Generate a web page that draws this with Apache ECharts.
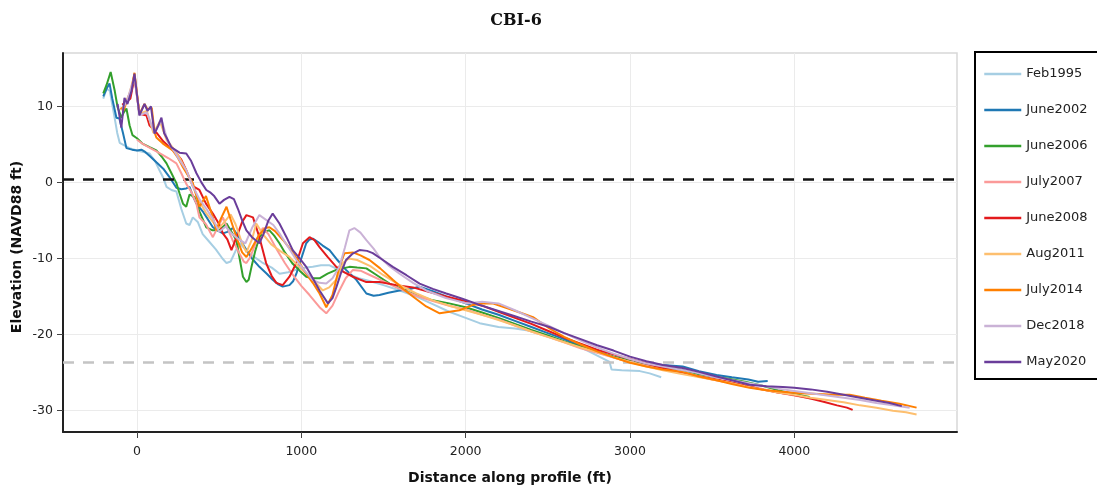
<!DOCTYPE html>
<html><head><meta charset="utf-8">
<script src="https://cdn.jsdelivr.net/npm/echarts@6/dist/echarts.min.js"></script>
<style>html,body{margin:0;padding:0;background:#fff}#c{width:1097px;height:486px}</style>
</head><body><div id="c"></div>
<script>
const chartTitle = 'CBI-6';
const xTitle = 'Distance along profile (ft)';
const yTitle = 'Elevation (NAVD88 ft)';
const seriesNames = ['Feb1995','June2002','June2006','July2007','June2008','Aug2011','July2014','Dec2018','May2020'];
const colors = ['#a6cee3','#1f78b4','#33a02c','#fb9a99','#e31a1c','#fdbf6f','#ff7f00','#cab2d6','#6a3d9a'];
const xTicks = [0, 1000, 2000, 3000, 4000];
const yTicks = [-30, -20, -10, 0, 10];
const xRange = [-450, 4990];
const yRange = [-32.8, 17];
const refZero = 0.35;
const refLow = -23.7;

const feb1995 = [[-205,11],[-185,12.3],[-165,12],[-140,9],[-120,6.5],[-105,5.2],[-80,4.9],[-45,4.5],[0,4.2],[40,4.0],[76,3.8],[110,2.8],[137,1.6],[160,0.6],[180,-0.6],[210,-1.0],[240,-1.2],[270,-3.5],[300,-5.4],[320,-5.6],[340,-4.6],[370,-5.2],[400,-6.8],[440,-7.8],[480,-8.8],[520,-10],[545,-10.6],[570,-10.4],[600,-9],[625,-8],[660,-8.8],[700,-9.6],[760,-10.5],[820,-11.2],[868,-12],[920,-11.8],[980,-11.4],[1030,-11.2],[1070,-11.1],[1120,-10.9],[1172,-10.9],[1220,-11.4],[1280,-12],[1350,-12.6],[1420,-13],[1500,-13.5],[1600,-14.2],[1700,-15],[1800,-16],[1900,-17],[2000,-17.8],[2085,-18.5],[2200,-19],[2300,-19.2],[2390,-19.5],[2500,-20.2],[2632,-21],[2750,-22.2],[2876,-23.6],[2888,-24.6],[2950,-24.7],[3060,-24.8],[3120,-25.1],[3190,-25.6]];
const june2002 = [[-205,11.3],[-185,12.3],[-167,13],[-150,11],[-125,8.5],[-107,8.4],[-85,6.5],[-64,4.5],[-30,4.3],[0,4.2],[27,4.3],[50,4.0],[76,3.5],[120,2.6],[160,1.8],[198,0.7],[240,-0.7],[270,-0.9],[300,-0.8],[320,-0.6],[340,-1.8],[362,-2.8],[400,-3.8],[430,-4.8],[462,-5.9],[490,-6.3],[523,-6.7],[550,-6.5],[583,-6],[620,-7.2],[666,-8.9],[700,-10],[745,-11.1],[790,-12],[826,-12.8],[860,-13.4],[887,-13.7],[928,-13.5],[950,-13],[970,-12],[1000,-10],[1030,-8],[1050,-7.5],[1070,-7.4],[1100,-7.8],[1130,-8.3],[1172,-8.9],[1220,-10.2],[1272,-11.5],[1335,-12.8],[1396,-14.6],[1440,-14.9],[1476,-14.8],[1530,-14.5],[1598,-14.2],[1660,-14],[1720,-13.7],[1800,-14.3],[1882,-15],[2000,-15.9],[2100,-16.7],[2200,-17.4],[2300,-18.2],[2400,-19.0],[2500,-19.8],[2600,-20.6],[2700,-21.5],[2800,-22.2],[2900,-22.9],[3000,-23.4],[3100,-23.8],[3200,-24],[3321,-24.2],[3420,-24.8],[3527,-25.3],[3620,-25.6],[3720,-25.9],[3780,-26.2],[3838,-26.1]];
const june2006 = [[-205,11.7],[-185,12.8],[-160,14.5],[-148,14.7],[-135,12],[-118,9.9],[-95,8.5],[-80,9.2],[-64,9.7],[-45,7.5],[-27,6.2],[0,5.8],[33,5.1],[80,4.6],[118,4.2],[150,3.4],[180,2.5],[210,1.2],[240,-0.1],[260,-1.5],[280,-2.8],[300,-3.2],[320,-1.6],[350,-1.9],[380,-3.8],[422,-5.9],[460,-6.3],[502,-6.3],[545,-5.4],[575,-6.5],[605,-7.6],[625,-10],[645,-12.4],[666,-13.1],[680,-12.8],[697,-11.1],[720,-9],[745,-7.2],[775,-6.5],[806,-6.3],[835,-7],[867,-8],[900,-9.2],[948,-10.7],[990,-11.6],[1030,-12.4],[1070,-12.6],[1111,-12.6],[1160,-12],[1213,-11.5],[1293,-11.1],[1340,-11.2],[1396,-11.3],[1460,-12.2],[1537,-13.3],[1650,-14.4],[1800,-15.5],[1900,-15.9],[2000,-16.4],[2100,-17.1],[2200,-17.8],[2300,-18.6],[2400,-19.4],[2500,-20.1],[2600,-20.9],[2700,-21.6],[2800,-22.3],[2900,-22.9],[3000,-23.4],[3100,-23.9],[3200,-24.3],[3300,-24.6],[3400,-25.1],[3500,-25.5],[3600,-25.8],[3700,-26.2],[3800,-26.7],[3900,-27.3],[4000,-27.8],[4093,-28.2]];
const july2007 = [[0,5.6],[40,5.0],[90,4.4],[140,3.8],[190,3.2],[240,2.5],[270,1.2],[300,-0.2],[330,-1.2],[362,-2.8],[380,-4.6],[420,-5.5],[462,-7.2],[482,-6.3],[523,-4.6],[550,-6],[580,-7.5],[620,-9.2],[650,-10.4],[666,-10.6],[690,-9.8],[706,-8.9],[740,-7],[766,-6],[800,-6.8],[850,-8.8],[900,-10.6],[950,-12.2],[1000,-13.6],[1050,-14.8],[1111,-16.4],[1152,-17.2],[1190,-16.2],[1232,-14.2],[1270,-12.6],[1314,-11.5],[1360,-11.6],[1420,-12.2],[1500,-13],[1600,-14],[1700,-14.9],[1800,-15.6],[1900,-16.2],[2000,-16.7],[2100,-17.4],[2200,-18],[2300,-18.8],[2400,-19.6],[2500,-20.3],[2600,-21],[2700,-21.8],[2800,-22.4],[2900,-23],[3000,-23.6],[3100,-24.1],[3200,-24.6],[3300,-25],[3400,-25.4],[3500,-25.9],[3600,-26.3],[3700,-26.7],[3800,-27.1],[3900,-27.6],[4000,-28],[4100,-28.4]];
const june2008 = [[-90,10.2],[-40,11],[-15,13.8],[15,9.0],[58,8.8],[76,7.5],[120,6.5],[160,5.4],[200,4.6],[240,3.8],[270,3.0],[300,1.6],[340,-0.5],[380,-1],[420,-2.8],[462,-4.1],[500,-5.5],[523,-6.7],[550,-7.5],[575,-8.9],[595,-7.8],[615,-6.7],[640,-5.2],[666,-4.3],[706,-4.6],[745,-7.2],[786,-10.6],[820,-12.3],[848,-13.2],[887,-13.5],[928,-12.4],[970,-10.6],[1010,-8],[1050,-7.2],[1080,-7.6],[1111,-8.5],[1160,-9.8],[1213,-11.1],[1260,-11.8],[1314,-12.4],[1396,-13.1],[1476,-13.1],[1580,-13.5],[1679,-13.8],[1780,-14.4],[1882,-15],[2000,-15.6],[2100,-16.2],[2200,-17],[2300,-17.8],[2400,-18.6],[2500,-19.5],[2600,-20.4],[2700,-21.2],[2800,-22],[2900,-22.6],[3000,-23.2],[3100,-23.8],[3200,-24.4],[3300,-24.9],[3400,-25.4],[3500,-25.8],[3600,-26.2],[3700,-26.7],[3800,-27.2],[3900,-27.6],[3990,-27.9],[4080,-28.3],[4172,-28.8],[4260,-29.3],[4320,-29.6],[4355,-29.9]];
const aug2011 = [[-100,9.5],[-60,10.5],[-15,14.2],[15,9],[60,9.4],[100,6.5],[140,8],[180,5.6],[220,4.5],[260,3.2],[300,1.5],[340,-0.5],[380,-2.5],[420,-4],[462,-5.2],[500,-6],[540,-5],[570,-4.2],[600,-5.5],[640,-8],[666,-9.2],[700,-7.5],[726,-5.4],[766,-6.8],[820,-8.2],[870,-9],[928,-9.8],[1000,-11.4],[1070,-12.8],[1131,-14.2],[1170,-13.8],[1213,-12.8],[1253,-10.6],[1290,-10],[1340,-10.2],[1420,-11],[1500,-12.2],[1600,-13.5],[1700,-14.6],[1800,-15.5],[1900,-16.2],[2000,-16.8],[2100,-17.4],[2200,-18.1],[2300,-18.8],[2400,-19.6],[2500,-20.3],[2600,-21],[2700,-21.7],[2800,-22.3],[2900,-23],[3000,-23.6],[3100,-24.2],[3200,-24.7],[3300,-25.1],[3400,-25.5],[3500,-25.9],[3600,-26.3],[3700,-26.8],[3800,-27.2],[3900,-27.6],[4000,-27.9],[4100,-28.3],[4200,-28.6],[4300,-28.9],[4400,-29.3],[4500,-29.6],[4600,-30],[4680,-30.2],[4744,-30.5]];
const july2014 = [[-100,9.8],[-80,9.5],[-58,11],[-33,12.2],[-15,14.4],[15,9],[46,10.3],[64,9.6],[90,9.8],[107,6.6],[118,5.9],[158,5.1],[218,4.2],[250,3.2],[280,2],[340,-0.1],[380,-3.2],[420,-1.8],[462,-4.6],[482,-6.3],[510,-4.8],[545,-3.2],[575,-5.2],[610,-7.5],[640,-9.2],[666,-9.8],[700,-8.6],[740,-7],[780,-6],[806,-5.9],[840,-6.4],[890,-7.6],[948,-9.2],[990,-10.6],[1030,-12],[1070,-13.2],[1111,-14.6],[1152,-16.4],[1190,-14.8],[1230,-11.2],[1263,-9.3],[1314,-9.2],[1360,-9.6],[1415,-10.2],[1480,-11.3],[1557,-12.8],[1620,-14],[1679,-15],[1760,-16.3],[1842,-17.2],[1903,-17],[1963,-16.8],[2045,-16.1],[2100,-15.9],[2164,-15.9],[2250,-16.5],[2330,-17.1],[2410,-17.7],[2510,-19.2],[2600,-20.3],[2700,-21.3],[2800,-22.2],[2900,-23],[3000,-23.7],[3100,-24.2],[3200,-24.6],[3321,-24.9],[3420,-25.5],[3527,-26],[3620,-26.5],[3728,-27],[3830,-27.3],[3930,-27.5],[4040,-27.7],[4150,-27.8],[4240,-27.9],[4337,-27.9],[4430,-28.3],[4530,-28.7],[4640,-29.1],[4744,-29.6]];
const dec2018 = [[-90,9.5],[-60,10.8],[-15,13.8],[15,8.8],[60,9.2],[107,6.5],[150,8.2],[190,5.2],[230,4],[260,2.9],[300,1.6],[340,-0.5],[380,-2.2],[420,-3.4],[462,-4.8],[500,-6.5],[540,-5.8],[580,-6.8],[620,-7.5],[660,-8],[700,-6],[745,-4.3],[790,-5],[830,-5.6],[867,-6.7],[920,-8.5],[970,-10.2],[1020,-11.6],[1070,-12.8],[1110,-13.2],[1152,-13.3],[1190,-12.6],[1232,-11.1],[1265,-8.6],[1293,-6.3],[1323,-6],[1360,-6.6],[1396,-7.6],[1440,-8.7],[1476,-9.8],[1530,-10.9],[1598,-12],[1680,-13.2],[1760,-14.2],[1880,-15.2],[2006,-15.9],[2100,-15.7],[2200,-15.9],[2300,-16.8],[2400,-17.8],[2500,-18.8],[2600,-19.8],[2700,-20.8],[2800,-21.7],[2900,-22.5],[3000,-23.2],[3100,-23.8],[3200,-24.2],[3300,-24.6],[3400,-25],[3500,-25.5],[3600,-25.9],[3700,-26.3],[3800,-26.7],[3900,-27.1],[4000,-27.4],[4100,-27.7],[4200,-28],[4300,-28.3],[4400,-28.6],[4500,-29],[4600,-29.3],[4702,-29.6]];
const may2020 = [[-118,10.3],[-95,7.2],[-76,11.1],[-58,10.3],[-33,12],[-15,14.3],[15,8.8],[46,10.3],[64,9.4],[85,10],[107,6.4],[130,7.5],[149,8.5],[165,6.5],[180,5.9],[210,4.6],[259,3.9],[300,3.8],[330,2.8],[362,1.2],[392,0],[422,-1],[445,-1.3],[470,-1.8],[502,-2.8],[530,-2.3],[563,-1.9],[590,-2.2],[615,-3.5],[640,-5],[666,-6.3],[700,-7.2],[745,-8],[770,-6.8],[800,-5],[826,-4.1],[867,-5.4],[910,-7.2],[948,-8.9],[990,-10],[1030,-11.1],[1070,-12.6],[1111,-14.2],[1162,-15.9],[1190,-15.2],[1213,-13.8],[1240,-12],[1272,-10.2],[1310,-9.4],[1354,-8.9],[1400,-9],[1435,-9.3],[1490,-10.1],[1557,-11.1],[1640,-12.2],[1720,-13.3],[1800,-14],[1882,-14.6],[1980,-15.3],[2085,-16.1],[2200,-16.9],[2300,-17.6],[2400,-18.3],[2510,-19],[2600,-19.8],[2700,-20.6],[2800,-21.4],[2900,-22.1],[3000,-22.9],[3100,-23.5],[3200,-24],[3321,-24.4],[3420,-24.9],[3527,-25.5],[3620,-26.0],[3728,-26.6],[3830,-26.8],[3930,-26.9],[4000,-27],[4100,-27.2],[4200,-27.5],[4300,-27.9],[4400,-28.3],[4500,-28.7],[4580,-29],[4654,-29.4]];

const seriesData = [feb1995, june2002, june2006, july2007, june2008, aug2011, july2014, dec2018, may2020];

const chart = echarts.init(document.getElementById('c'), null, {renderer: 'canvas'});
const FONT = '"DejaVu Sans", Verdana, sans-serif';

const series = [{
  type: 'line', name: '__ref', data: [], silent: true, symbol: 'none',
  markLine: {
    silent: true, symbol: 'none', animation: false,
    label: {show: false},
    data: [
      {yAxis: refZero, lineStyle: {color: '#111', width: 2.5, type: [11, 9]}},
      {yAxis: refLow, lineStyle: {color: '#c4c4c4', width: 2.5, type: [11, 9]}}
    ]
  }
}];
seriesNames.forEach((n, i) => {
  series.push({
    type: 'line', name: n, data: seriesData[i], symbol: 'none', showSymbol: false,
    lineStyle: {color: colors[i], width: 2}, itemStyle: {color: colors[i]},
    emphasis: {disabled: true}, z: 2 + i
  });
});

chart.setOption({
  animation: false,
  backgroundColor: '#fff',
  title: {
    text: chartTitle, left: 511, top: 8, textAlign: 'center',
    textStyle: {fontFamily: '"DejaVu Serif", serif', fontWeight: 'bold', fontSize: 16, color: '#111'}
  },
  grid: {left: 63, right: 140, top: 53, bottom: 54, show: true, borderColor: '#d8d8d8', borderWidth: 1.5, backgroundColor: '#fff'},
  legend: {
    data: seriesNames, orient: 'vertical', left: 975, top: 52,
    itemWidth: 37, itemHeight: 14, itemGap: 22,
    padding: [15, 40, 10, 8], borderColor: '#000', borderWidth: 2,
    itemStyle: {opacity: 0, borderWidth: 0},
    lineStyle: {width: 2.5},
    textStyle: {fontFamily: FONT, fontSize: 13, color: '#222', lineHeight: 14},
    selectedMode: false
  },
  xAxis: {
    type: 'value', min: xRange[0], max: xRange[1],
    axisLine: {show: true, onZero: false, lineStyle: {color: '#222', width: 2}},
    axisTick: {show: true, length: 6, lineStyle: {color: '#444'}, customValues: xTicks},
    axisLabel: {customValues: xTicks, formatter: v => String(v), fontFamily: FONT, fontSize: 12.5, color: '#222', margin: 13},
    splitLine: {show: true, lineStyle: {color: '#ebebeb', width: 1}}
  },
  yAxis: {
    type: 'value', min: yRange[0], max: yRange[1],
    axisLine: {show: true, onZero: false, lineStyle: {color: '#222', width: 2}},
    axisTick: {show: true, length: 6, lineStyle: {color: '#444'}, customValues: yTicks},
    axisLabel: {customValues: yTicks, formatter: v => String(v), fontFamily: FONT, fontSize: 12.5, color: '#222', margin: 10},
    splitLine: {show: true, lineStyle: {color: '#ebebeb', width: 1}}
  },
  graphic: [
    {type: 'text', x: 510, y: 478, silent: true,
     style: {text: xTitle, font: 'bold 14px "DejaVu Sans"', fill: '#111', align: 'center', verticalAlign: 'middle'}},
    {type: 'text', x: 17, y: 247, rotation: Math.PI / 2, silent: true,
     style: {text: yTitle, font: 'bold 14px "DejaVu Sans"', fill: '#111', align: 'center', verticalAlign: 'middle'}}
  ],
  series: series
});
</script>
</body></html>
